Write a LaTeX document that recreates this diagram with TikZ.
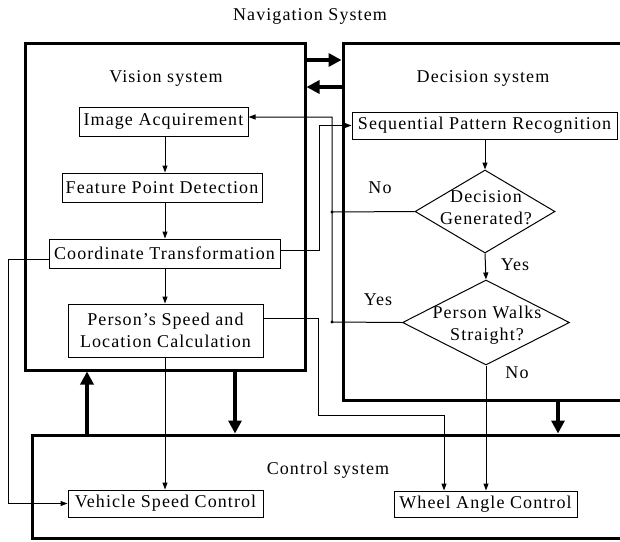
\documentclass[tikz,border=0pt]{standalone}
\usepackage{fontspec}
\setmainfont{Liberation Serif}[LetterSpace=6]
\usetikzlibrary{arrows.meta,shapes.geometric}
\begin{document}
\begin{tikzpicture}[x=1pt,y=-1pt,
  every node/.style={font=\fontsize{18}{22}\selectfont},
  sysbox/.style={draw, line width=3pt, inner sep=0pt, rectangle},
  pbox/.style={draw, line width=1pt, inner sep=0pt, rectangle, align=center},
  dia/.style={draw, diamond, line width=1pt, inner sep=0pt},
  wire/.style={line width=1pt, -{Triangle[length=7pt,width=5pt]}},
  plain/.style={line width=1pt},
  bigarrow/.style={line width=4pt, -{Triangle[length=13pt,width=13pt]}},
  lbl/.style={inner sep=0pt, align=center}
]
\useasboundingbox (0,0) rectangle (620,541);
\fill[white] (0,0) rectangle (620,541);

% system containers
\node[sysbox, minimum width=280pt, minimum height=327pt] (vision) at (165,206.5) {};
\node[sysbox, minimum width=317pt, minimum height=357pt] (decision) at (501.5,221.5) {};
\node[sysbox, minimum width=628pt, minimum height=103pt] (control) at (346,486.5) {};

% titles
\node[lbl] (navt) at (310,16) {Navigation System};
\node[lbl] (vist) at (166,78) {Vision system};
\node[lbl] (dect) at (483,78) {Decision system};
\node[lbl] (cont) at (328,470) {Control system};

% process boxes
\node[pbox, minimum width=169pt, minimum height=29pt] (ia) at (163.5,121.5) {Image Acquirement};
\node[pbox, minimum width=200pt, minimum height=29pt] (fpd) at (162,187.5) {Feature Point Detection};
\node[pbox, minimum width=231pt, minimum height=29pt] (ct) at (164.5,253.5) {Coordinate Transformation};
\node[pbox, minimum width=195pt, minimum height=53pt] (ps) at (165.5,330.5) {Person’s Speed and\\Location Calculation};
\node[pbox, minimum width=265pt, minimum height=27pt] (spr) at (484.5,125.5) {Sequential Pattern Recognition};
\node[pbox, minimum width=195pt, minimum height=27pt] (vsc) at (165.5,503.5) {Vehicle Speed Control};
\node[pbox, minimum width=183pt, minimum height=26pt] (wac) at (485.5,504) {Wheel Angle Control};

% decisions
\node[dia, minimum width=140pt, minimum height=83pt] (d1) at (485,211.5) {};
\node[lbl] (d1t) at (486,208) {Decision\\Generated?};
\node[dia, minimum width=167pt, minimum height=85pt] (d2) at (486,322.5) {};
\node[lbl] (d2t) at (487,325) {Person Walks\\Straight?};

% branch labels
\node[lbl] (no1) at (380,188) {No};
\node[lbl] (yes1) at (515,265) {Yes};
\node[lbl] (yes2) at (378,300) {Yes};
\node[lbl] (no2) at (517,373) {No};

% helper coordinates
\coordinate (yA) at (0,60);
\coordinate (yB) at (0,87);
\coordinate (xU) at (87,0);
\coordinate (xD) at (235,0);
\coordinate (xD2) at (558,0);
\coordinate (col) at (165,0);
\coordinate (col2) at (485,0);
\coordinate (yIA) at (0,117);
\coordinate (yCTr) at (0,250);
\coordinate (yCTl) at (0,259);
\coordinate (yPS) at (0,318);
\coordinate (k1) at (8,259);
\coordinate (k2) at (319,250);
\coordinate (k3) at (318,415);
\coordinate (j1) at (332,212);
\coordinate (j2) at (332,322);
\coordinate (xW) at (444,0);

% big arrows between systems
\draw[bigarrow] (vision.east |- yA) -- (decision.west |- yA);
\draw[bigarrow] (decision.west |- yB) -- (vision.east |- yB);
\draw[bigarrow] (control.north -| xU) -- (vision.south -| xU);
\draw[bigarrow] (vision.south -| xD) -- (control.north -| xD);
\draw[bigarrow] (decision.south -| xD2) -- (control.north -| xD2);

% thin connectors
\draw[wire] (ia.south -| col) -- (fpd.north -| col);
\draw[wire] (fpd.south -| col) -- (ct.north -| col);
\draw[wire] (ct.south -| col) -- (ps.north -| col);
\draw[wire] (ps.south -| col) -- (vsc.north -| col);
\draw[wire] (ct.west |- yCTl) -- (k1) |- (vsc.west);
\draw[wire] (ct.east |- yCTr) -- (k2) |- (spr.west);
\draw[wire] (ps.east |- yPS) -| (k3) -| (wac.north -| xW);
\draw[wire] (spr.south -| col2) -- (d1.north);
\draw[wire] (d1.south) -- (d2.north);
\draw[wire] (d2.south) -- (wac.north -| d2.south);
\draw[plain] (d1.west) -- (j1);
\draw[wire] (d2.west) -- (j2) -- (j1) |- (ia.east |- yIA);
\fill (j1) circle (1.6pt);
\fill (j2) circle (1.6pt);
\end{tikzpicture}
\end{document}
